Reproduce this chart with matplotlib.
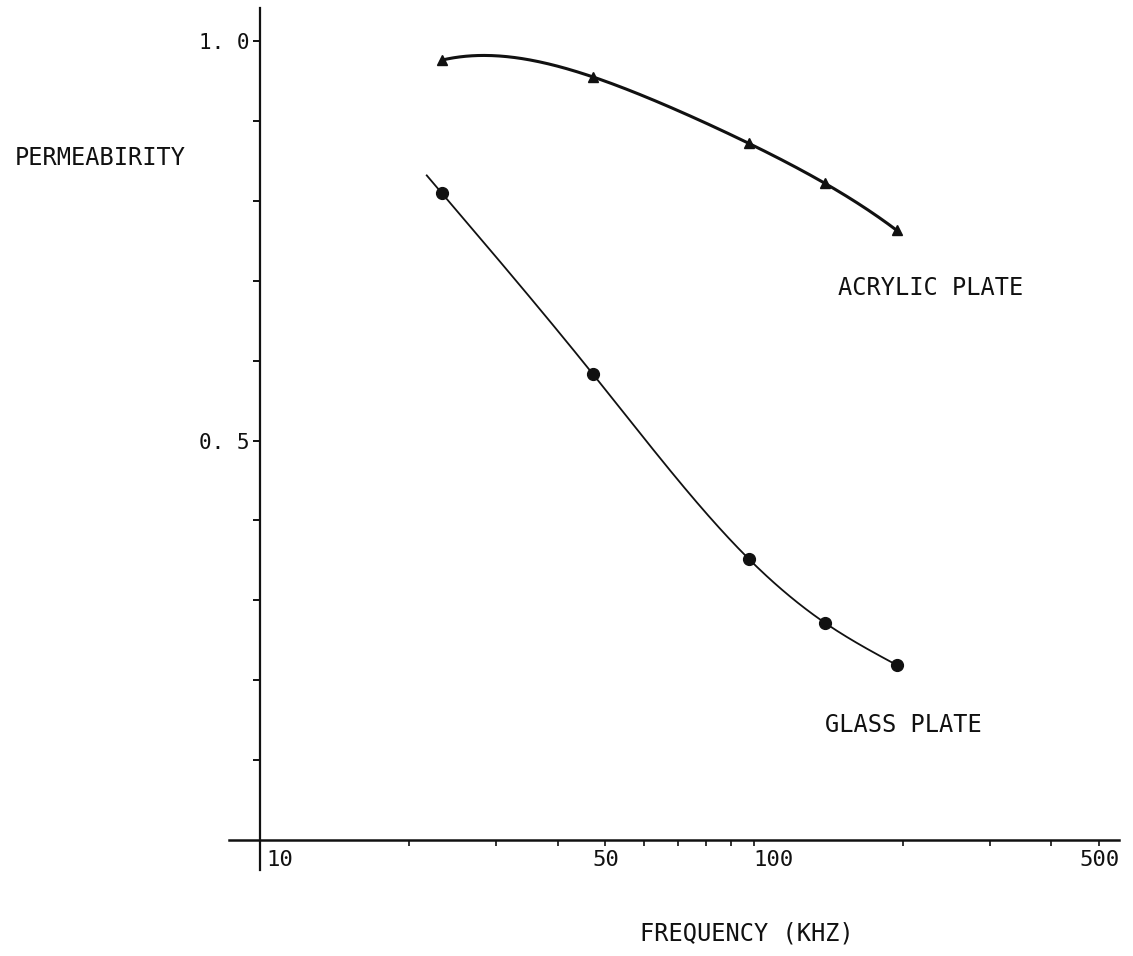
import numpy as np
import matplotlib
matplotlib.use("Agg")
import matplotlib.pyplot as plt
from matplotlib.transforms import ScaledTranslation

# ---- data ----
freq_khz = [23.3, 47.2, 97.5, 139.0, 194.5]
acrylic_perm = [0.976, 0.955, 0.872, 0.822, 0.763]
glass_perm = [0.810, 0.583, 0.352, 0.272, 0.219]

x_major_ticks = [10, 50, 100, 500]
x_major_labels = ["10", "50", "100", "500"]
x_minor_ticks = [20, 30, 40, 60, 70, 80, 90, 200, 300, 400]
y_ticks = [0.1, 0.2, 0.3, 0.4, 0.5, 0.6, 0.7, 0.8, 0.9, 1.0]
y_tick_labels = ["", "", "", "", "0. 5", "", "", "", "", "1. 0"]

ylabel_text = "PERMEABIRITY"
xlabel_text = "FREQUENCY (KHZ)"
acrylic_label = "ACRYLIC PLATE"
glass_label = "GLASS PLATE"


def natural_spline(xk, yk, xs):
    xk = np.asarray(xk, float)
    yk = np.asarray(yk, float)
    n = len(xk)
    h = np.diff(xk)
    A = np.zeros((n - 2, n - 2))
    r = np.zeros(n - 2)
    for i in range(n - 2):
        A[i, i] = 2 * (h[i] + h[i + 1])
        if i + 1 < n - 2:
            A[i, i + 1] = h[i + 1]
            A[i + 1, i] = h[i + 1]
        r[i] = 6 * ((yk[i + 2] - yk[i + 1]) / h[i + 1] - (yk[i + 1] - yk[i]) / h[i])
    M = np.zeros(n)
    M[1:-1] = np.linalg.solve(A, r)
    xs = np.asarray(xs, float)
    idx = np.clip(np.searchsorted(xk, xs) - 1, 0, n - 2)
    x0, x1 = xk[idx], xk[idx + 1]
    hh = x1 - x0
    a = (x1 - xs) / hh
    b = (xs - x0) / hh
    return (a * yk[idx] + b * yk[idx + 1]
            + ((a ** 3 - a) * M[idx] + (b ** 3 - b) * M[idx + 1]) * hh ** 2 / 6)


plt.rcParams['font.family'] = ['DejaVu Sans Mono']

W, H = 1133, 956
fig = plt.figure(figsize=(W / 100, H / 100), dpi=100)
fig.patch.set_facecolor('white')

left_px, right_px, top_px, bot_px = 229, 1119, 8, 870
ax = fig.add_axes([left_px / W, 1 - bot_px / H,
                   (right_px - left_px) / W, (bot_px - top_px) / H])
ax.set_xscale('log')
ax.set_xlim(8.65, 548)
ax.set_ylim(-0.0375, 1.0413)

ink = '#111111'

# acrylic: smooth polynomial through the points (in log-frequency)
lx = np.log10(freq_khz)
pa = np.polyfit(lx, acrylic_perm, 4)
xs_a = np.linspace(lx[0], lx[-1], 300)
ax.plot(10 ** xs_a, np.polyval(pa, xs_a), color=ink, lw=2.2, solid_capstyle='round')
ax.plot(freq_khz, acrylic_perm, linestyle='none', marker='^', ms=7, color=ink)

# glass: natural spline
xs_g = np.linspace(lx[0] - 0.03, lx[-1], 300)
ax.plot(10 ** xs_g, natural_spline(lx, glass_perm, xs_g), color=ink, lw=1.3)
ax.plot(freq_khz, glass_perm, linestyle='none', marker='o', ms=8.5, color=ink)

# axes styling
for s in ['top', 'right']:
    ax.spines[s].set_visible(False)
ax.spines['left'].set_position(('data', 10))
ax.spines['bottom'].set_position(('data', 0))
ax.spines['left'].set_linewidth(1.6)
ax.spines['bottom'].set_linewidth(1.8)
ax.spines['left'].set_color(ink)
ax.spines['bottom'].set_color(ink)

ax.set_yticks(y_ticks)
ax.set_yticklabels(y_tick_labels, fontsize=15)
ax.tick_params(axis='y', direction='out', length=5, width=1.4, pad=3, colors=ink)

ax.set_xticks(x_major_ticks)
ax.set_xticklabels(x_major_labels, fontsize=16)
ax.set_xticks(x_minor_ticks, minor=True)
ax.xaxis.set_minor_formatter(plt.NullFormatter())
ax.tick_params(axis='x', which='both', direction='out', length=4, width=1.2, pad=3,
               colors=ink)

# shift a few labels as in the hand-drawn original
offsets = {"10": 20, "100": 19}
for lab in ax.get_xticklabels():
    dx = offsets.get(lab.get_text(), 0)
    if dx:
        lab.set_transform(lab.get_transform() +
                          ScaledTranslation(dx / 100, 0, fig.dpi_scale_trans))

fig.text(15 / W, 1 - 158 / H, ylabel_text, fontsize=17, ha='left', va='center', color=ink)
fig.text(640 / W, 1 - 933 / H, xlabel_text, fontsize=17, ha='left', va='center', color=ink)
fig.text(838 / W, 1 - 288 / H, acrylic_label, fontsize=17, ha='left', va='center', color=ink)
fig.text(825 / W, 1 - 725 / H, glass_label, fontsize=17, ha='left', va='center', color=ink)

fig.savefig('out.png', dpi=100, facecolor='white')
